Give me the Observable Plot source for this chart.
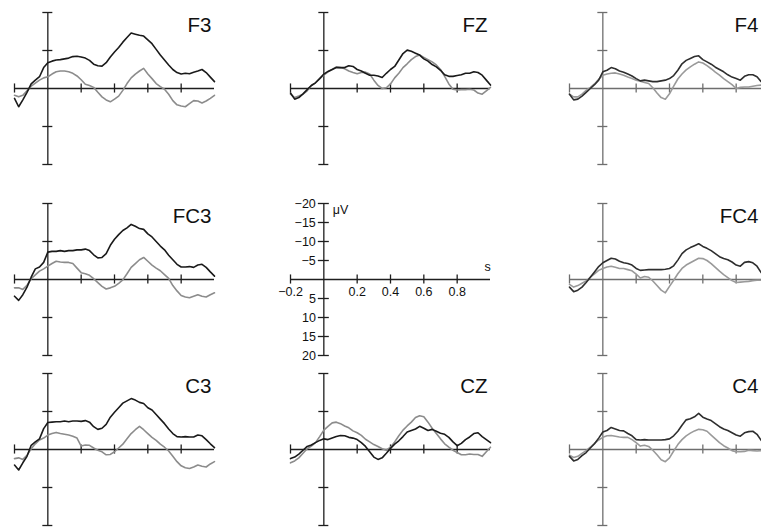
<!DOCTYPE html>
<html>
<head>
<meta charset="utf-8">
<script src="https://cdn.jsdelivr.net/npm/d3@7"></script>
<script src="https://cdn.jsdelivr.net/npm/@observablehq/plot@0.6"></script>
<style>
  html, body { margin: 0; padding: 0; background: #fff; }
  #chart { position: relative; width: 761px; height: 527px; overflow: hidden; background: #fff; }
  #chart > div { position: absolute; width: 260px; height: 172px; }
  #chart svg { overflow: visible; max-width: none !important; }
</style>
</head>
<body>
<div id="chart"></div>
<script>
// time grid (s), 25 ms steps from -0.2 to 1.0
const time = d3.range(49).map(i => Math.round((-0.2 + i * 0.025) * 1000) / 1000);

// amplitudes in µV (negative plotted upward)
const F3_black = [2.6,4.8,3.0,1.0,-1.2,-2.2,-3.1,-5.5,-6.8,-7.2,-7.5,-7.6,-7.8,-8.0,-8.4,-8.5,-8.3,-8.0,-7.4,-6.4,-6.0,-5.9,-6.8,-8.3,-9.6,-10.8,-12.2,-13.4,-14.6,-14.3,-14.0,-13.8,-12.8,-11.8,-10.3,-8.8,-7.5,-6.2,-5.0,-4.2,-3.8,-4.0,-3.9,-4.3,-4.6,-5.0,-4.2,-3.0,-1.8];
const F3_gray = [1.8,2.2,1.8,0.6,-0.6,-1.4,-2.2,-2.8,-3.1,-3.8,-4.4,-4.6,-4.6,-4.4,-4.0,-3.3,-2.3,-1.1,-0.8,-0.3,1.0,2.2,3.0,3.5,2.8,2.0,0.5,-1.3,-2.8,-3.8,-4.6,-5.3,-3.8,-2.6,-1.3,-0.5,0.2,1.5,3.2,4.3,4.6,4.8,4.0,3.2,3.3,3.8,3.3,2.6,1.8];

const FZ_black = [1.2,2.8,2.4,1.4,0.3,-0.8,-1.5,-2.6,-3.8,-4.5,-5.0,-5.5,-5.5,-5.5,-6.0,-5.8,-5.0,-4.6,-4.0,-3.5,-3.5,-3.3,-2.9,-4.0,-5.0,-5.8,-7.5,-9.2,-10.1,-9.8,-9.3,-8.8,-7.8,-7.2,-6.3,-5.7,-4.8,-3.6,-3.2,-3.2,-3.4,-3.6,-4.0,-4.0,-4.4,-4.2,-3.5,-2.2,-0.9];
const FZ_gray = [1.5,2.4,2.0,1.5,0.6,-0.8,-1.5,-2.6,-3.5,-4.4,-5.0,-5.7,-5.5,-5.2,-4.6,-4.2,-3.9,-4.2,-4.3,-3.8,-2.2,-0.8,0.0,-0.2,-1.2,-2.8,-4.0,-5.5,-6.5,-7.6,-8.4,-8.8,-8.2,-7.6,-7.0,-6.2,-5.0,-3.2,-1.2,0.2,0.4,0.3,0.3,0.2,0.4,1.2,1.5,0.6,-0.3];

const F4_black = [1.5,3.0,2.8,2.0,1.0,0.0,-1.0,-2.2,-4.4,-4.8,-5.5,-5.2,-4.6,-4.3,-3.8,-3.3,-2.6,-2.0,-2.2,-2.0,-1.8,-1.8,-2.0,-2.2,-2.6,-3.4,-4.8,-6.5,-7.4,-7.9,-8.4,-8.6,-7.6,-7.0,-6.4,-5.6,-5.0,-4.4,-3.6,-3.0,-2.6,-2.2,-3.2,-3.6,-3.6,-3.1,-1.8,-1.2,-0.8];
const F4_gray = [1.5,2.2,2.2,1.5,0.5,-0.3,-1.2,-2.4,-3.5,-3.8,-4.0,-4.1,-3.8,-3.5,-3.0,-2.6,-2.2,-1.9,-1.6,-1.3,-0.2,1.2,2.4,2.8,1.4,-0.6,-2.5,-3.8,-4.9,-5.7,-6.4,-7.0,-6.7,-6.0,-5.2,-4.3,-3.5,-2.6,-1.8,-1.0,0.0,-0.3,-0.4,-0.4,-0.6,-0.8,-0.9,-1.0,-1.0];

const FC3_black = [4.4,5.5,4.0,2.0,-0.6,-2.8,-3.3,-4.5,-7.2,-7.4,-7.4,-7.6,-7.4,-7.6,-7.6,-7.8,-7.8,-8.0,-7.6,-6.5,-5.7,-5.8,-6.8,-9.0,-10.6,-11.8,-12.9,-13.6,-14.5,-14.0,-13.4,-13.2,-12.0,-11.2,-10.0,-8.8,-7.8,-6.4,-5.2,-4.0,-3.3,-3.3,-3.4,-3.2,-3.8,-4.0,-3.2,-2.0,-0.9];
const FC3_gray = [2.2,2.2,2.6,1.5,-0.2,-1.2,-2.2,-2.8,-3.5,-4.2,-4.8,-4.6,-4.5,-4.5,-4.2,-3.0,-1.8,-1.5,-1.1,-0.2,0.8,1.8,2.5,2.2,1.8,1.0,0.1,-1.5,-3.2,-4.2,-5.2,-5.8,-4.8,-3.8,-3.0,-2.3,-1.3,-0.3,1.6,3.0,4.2,4.6,4.8,4.4,4.0,4.4,4.6,4.0,3.5];

const FC4_black = [2.0,3.2,2.8,2.0,0.8,-0.6,-2.0,-3.4,-4.4,-5.0,-5.6,-5.4,-4.8,-4.4,-4.2,-3.8,-2.9,-2.4,-2.5,-2.6,-2.6,-2.6,-2.6,-2.7,-2.9,-3.6,-5.1,-6.8,-7.8,-8.4,-8.9,-9.4,-8.7,-8.2,-7.6,-6.8,-6.0,-5.5,-5.2,-4.6,-3.8,-3.5,-4.5,-4.7,-4.4,-3.5,-1.8,-1.2,-0.8];
const FC4_gray = [1.3,2.0,1.6,1.0,0.4,-0.6,-1.5,-2.4,-2.9,-3.3,-3.5,-3.2,-2.9,-2.9,-2.6,-2.3,-1.4,-0.4,-0.8,-0.6,0.4,1.6,2.8,3.5,1.8,0.2,-1.5,-2.9,-3.8,-4.4,-5.0,-5.6,-5.5,-5.0,-4.2,-3.2,-2.2,-1.3,-0.5,0.3,0.8,0.7,0.6,0.5,0.3,0.2,0.2,0.1,0.0];

const C3_black = [4.1,5.4,3.5,1.8,-1.1,-2.0,-2.8,-5.5,-7.1,-7.2,-7.3,-7.3,-7.5,-7.3,-7.5,-7.5,-7.4,-7.6,-7.2,-6.0,-5.3,-5.6,-6.6,-8.5,-9.8,-11.0,-12.2,-12.8,-13.4,-13.0,-12.4,-12.1,-11.0,-10.4,-9.2,-8.0,-6.8,-5.4,-4.2,-3.4,-3.3,-3.4,-3.3,-3.3,-3.8,-3.6,-2.6,-1.5,-0.5];
const C3_gray = [2.4,2.2,2.6,1.5,-0.2,-1.5,-2.5,-3.0,-3.8,-4.2,-4.5,-4.2,-4.0,-3.8,-3.5,-3.0,-0.9,-1.2,-1.1,-0.4,0.2,0.6,1.4,1.3,0.6,-0.4,-1.4,-2.8,-4.2,-5.2,-6.1,-5.2,-4.2,-3.2,-2.4,-1.4,-0.6,0.4,1.8,3.2,4.3,4.8,5.0,4.6,4.1,4.4,4.6,3.8,3.2];

const CZ_black = [2.4,2.0,1.2,0.2,-0.8,-1.2,-1.8,-2.4,-2.8,-2.6,-3.0,-3.4,-3.7,-3.6,-3.2,-3.0,-2.6,-1.8,-0.8,0.6,2.0,2.6,2.2,1.0,-0.3,-1.4,-2.3,-3.4,-4.6,-5.0,-5.4,-6.1,-5.6,-5.0,-5.3,-4.8,-4.3,-4.0,-3.2,-2.0,-1.0,-1.6,-2.6,-3.3,-4.2,-4.4,-3.4,-2.6,-1.8];
const CZ_gray = [3.5,3.0,2.2,1.0,-0.2,-0.9,-1.8,-3.4,-5.1,-6.1,-7.0,-7.2,-6.8,-6.2,-5.7,-4.9,-4.4,-3.7,-2.7,-2.0,-1.3,-0.8,-0.2,0.2,-0.6,-2.0,-3.6,-5.1,-6.2,-7.2,-8.4,-8.9,-8.6,-7.2,-5.6,-4.2,-2.8,-1.5,-0.6,0.2,0.8,1.4,1.4,1.2,1.3,1.3,1.8,0.6,-0.6];

const C4_black = [1.8,3.0,2.6,1.6,0.8,-0.4,-1.5,-3.0,-4.6,-5.0,-5.8,-5.4,-5.0,-4.9,-4.2,-3.6,-2.6,-2.5,-2.6,-2.5,-2.5,-2.5,-2.5,-2.6,-2.8,-3.6,-4.8,-6.4,-7.8,-8.1,-8.6,-9.5,-8.5,-8.0,-7.6,-6.8,-6.0,-5.4,-5.0,-4.4,-3.8,-3.5,-4.4,-4.7,-4.8,-4.0,-2.4,-1.6,-1.0];
const C4_gray = [1.5,2.1,1.8,1.0,0.3,-0.6,-1.6,-2.5,-3.2,-3.6,-3.7,-3.5,-3.3,-3.2,-3.2,-2.6,-1.8,-0.9,-1.1,-0.8,0.2,1.4,2.7,3.2,2.2,0.4,-1.3,-2.6,-3.6,-4.3,-4.9,-5.3,-5.2,-4.8,-3.8,-2.8,-1.8,-1.0,-0.4,0.3,0.6,0.6,0.5,0.2,0.3,0.4,0.3,0.2,0.2];

// electrode names
const electrodes = ["F3", "FZ", "F4", "FC3", "FC4", "C3", "CZ", "C4"];
const seriesBlack = {F3: F3_black, FZ: FZ_black, F4: F4_black, FC3: FC3_black, FC4: FC4_black, C3: C3_black, CZ: CZ_black, C4: C4_black};
const seriesGray = {F3: F3_gray, FZ: FZ_gray, F4: F4_gray, FC3: FC3_gray, FC4: FC4_gray, C3: C3_gray, CZ: CZ_gray, C4: C4_gray};

// axis ticks
const panelYTicks = [-20, -10, 10, 20];
const xTicks = [-0.2, 0.2, 0.4, 0.6, 0.8];
const legendYTicks = [-20, -15, -10, -5, 5, 10, 15, 20];
const legendYLabels = ["−20", "−15", "−10", "−5", "5", "10", "15", "20"];
const legendXTicks = [-0.2, 0.2, 0.4, 0.6, 0.8];
const legendXLabels = ["−0.2", "0.2", "0.4", "0.6", "0.8"];

// layout (grid cells)
const cellCol = {F3: 0, FZ: 1, F4: 2, FC3: 0, FC4: 2, C3: 0, CZ: 1, C4: 2};
const cellRow = {F3: 0, FZ: 0, F4: 0, FC3: 1, FC4: 1, C3: 2, CZ: 2, C4: 2};
const colZeroX = [47.8, 323.8, 602.3];
const rowTopY = [12.3, 202.7, 373.3];
const titleDx = [-3, -3, -11];

const FONT = "'Liberation Sans', Arial, Helvetica, sans-serif";
const ML = 30, MR = 30, MT = 10, MB = 10, W = 200 + ML + MR, H = 152 + MT + MB;

function basePlot(marks) {
  return Plot.plot({
    width: W, height: H,
    marginLeft: ML, marginRight: MR, marginTop: MT, marginBottom: MB,
    x: {domain: [-0.2, 1.0], axis: null},
    y: {domain: [-20, 20], reverse: true, axis: null},
    style: {overflow: "visible", background: "transparent", fontFamily: FONT, maxWidth: "none"},
    marks
  });
}

function place(el, col, row) {
  const wrap = document.createElement("div");
  wrap.style.left = (colZeroX[col] - 200 / 6 - ML) + "px";
  wrap.style.top = (rowTopY[row] - MT) + "px";
  wrap.appendChild(el);
  document.getElementById("chart").appendChild(wrap);
}

for (const name of electrodes) {
  const col = cellCol[name], row = cellRow[name];
  const axisColor = col === 2 ? "#6e6e6e" : "#1e1e1e";
  const blackColor = col === 2 ? "#2e2e2e" : "#1a1a1a";
  const grayColor = col === 2 ? "#9a9a9a" : "#8c8c8c";
  const black = time.map((t, i) => ({t, v: seriesBlack[name][i]}));
  const gray = time.map((t, i) => ({t, v: seriesGray[name][i]}));
  const chart = basePlot([
    Plot.ruleY([0], {x1: -0.2, x2: 1.0, stroke: axisColor, strokeWidth: 1.3}),
    Plot.ruleX([0], {y1: -20, y2: 20, stroke: axisColor, strokeWidth: 1.3}),
    Plot.ruleY(panelYTicks, {x1: -0.03, x2: 0.03, stroke: axisColor, strokeWidth: 1.3}),
    Plot.ruleX(xTicks, {y1: -1.2, y2: 1.2, stroke: axisColor, strokeWidth: 1.3}),
    Plot.line(gray, {x: "t", y: "v", stroke: grayColor, strokeWidth: 1.6}),
    Plot.line(black, {x: "t", y: "v", stroke: blackColor, strokeWidth: 1.6}),
    Plot.text([name], {x: 1.0, y: -20, text: d => d, textAnchor: "end", dx: titleDx[col], dy: 12.5, fontSize: 20.5, fill: "#111"})
  ]);
  place(chart, col, row);
}

// scale legend panel (center)
const legend = basePlot([
  Plot.ruleY([0], {x1: -0.2, x2: 1.0, stroke: "#1e1e1e", strokeWidth: 1.3}),
  Plot.ruleX([0], {y1: -20, y2: 20, stroke: "#1e1e1e", strokeWidth: 1.3}),
  Plot.ruleY(legendYTicks, {x1: -0.033, x2: 0.033, stroke: "#1e1e1e", strokeWidth: 1.3}),
  Plot.ruleX(legendXTicks, {y1: -1.2, y2: 1.2, stroke: "#1e1e1e", strokeWidth: 1.3}),
  Plot.text(legendYTicks, {x: 0, y: d => d, text: (d, i) => legendYLabels[i], textAnchor: "end", dx: -8, fontSize: 12.5, fill: "#111"}),
  Plot.text(legendXTicks, {x: d => d, y: 0, text: (d, i) => legendXLabels[i], dy: 12, fontSize: 12.5, fill: "#111"}),
  Plot.text(["s"], {x: 1.0, y: 0, text: d => d, dx: -3, dy: -13, fontSize: 12.5, fill: "#111"}),
  Plot.text(["μV"], {x: 0, y: -20, text: d => d, textAnchor: "start", dx: 9, dy: 6.5, fontSize: 12.5, fill: "#111"})
]);
place(legend, 1, 1);
</script>
</body>
</html>
